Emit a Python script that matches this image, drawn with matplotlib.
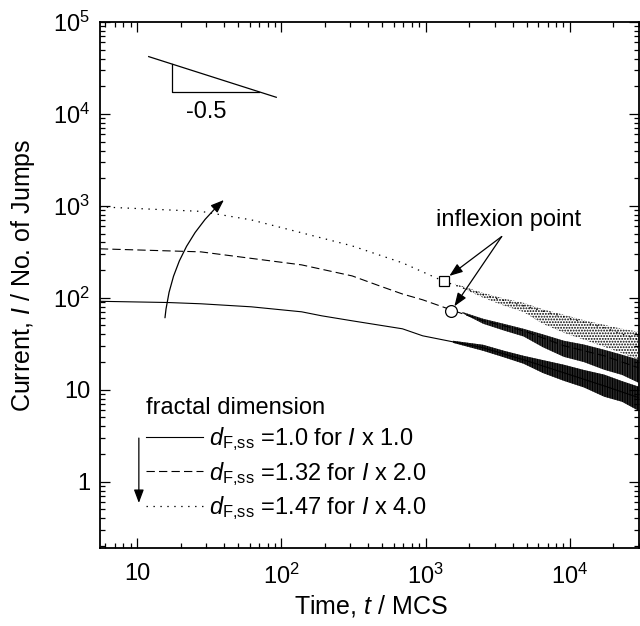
import math

import matplotlib

matplotlib.use("Agg")
import matplotlib.pyplot as plt
from matplotlib.patches import FancyArrowPatch
from matplotlib.ticker import FuncFormatter, LogLocator, NullFormatter

plt.rcParams["font.family"] = ["Liberation Sans", "DejaVu Sans"]
plt.rcParams["mathtext.fontset"] = "custom"
plt.rcParams["mathtext.rm"] = "Liberation Sans"
plt.rcParams["mathtext.it"] = "Liberation Sans:italic"
plt.rcParams["mathtext.bf"] = "Liberation Sans:bold"
plt.rcParams["lines.scale_dashes"] = False
plt.rcParams["hatch.linewidth"] = 0.9

# mean current vs time
t_solid = [5.5, 16.2, 27.6, 61.7, 138, 190, 309, 690, 953, 1545, 2505, 4770, 9080, 17300, 30000]
i_solid = [91.6, 88.9, 86.1, 79.8, 70.4, 63.7, 56.2, 46.0, 38.6, 33.2, 28.6, 21.2, 15.3, 11.0, 8.2]

t_dashed = [5.5, 27.6, 138, 309, 477, 690, 953, 1496, 2505, 4770, 9080, 17300, 30000]
i_dashed = [341, 316, 228, 173, 135, 110, 95.1, 74.1, 56.2, 43.8, 30.1, 23.4, 17.3]

t_dotted = [5.5, 27.6, 61.7, 138, 309, 690, 1336, 2505, 4770, 9080, 17300, 30000]
i_dotted = [975, 871, 704, 509, 367, 240, 151, 108, 81.8, 62.1, 47.2, 34.9]

# spread of the noisy tail (upper / lower envelope)
t_band_solid = [1545, 2505, 3500, 4770, 6500, 9080, 12500, 17300, 23000, 30000]
hi_solid = [34.1, 30.8, 26.5, 23.4, 21.0, 18.7, 16.4, 14.6, 12.4, 10.8]
lo_solid = [32.4, 26.5, 22.5, 19.2, 15.2, 12.5, 10.6, 8.4, 7.4, 5.9]

t_band_dashed = [1800, 2505, 3500, 4770, 6500, 9080, 12500, 17300, 23000, 30000]
hi_dashed = [70.0, 59.1, 52.0, 46.0, 40.0, 34.1, 31.0, 27.2, 24.0, 21.2]
lo_dashed = [68.0, 52.2, 44.0, 38.0, 29.0, 22.8, 20.0, 16.5, 14.5, 11.9]

t_band_dotted = [1600, 2505, 3500, 4770, 6500, 9080, 12500, 17300, 23000, 30000]
hi_dotted = [142, 113, 98.0, 88.2, 75.0, 65.4, 57.0, 50.9, 46.0, 42.7]
lo_dotted = [138, 100, 82.0, 70.0, 52.0, 41.6, 35.0, 29.3, 25.0, 21.2]

# inflexion points
inflex_square = (1336, 151)
inflex_circle = (1496, 72.2)

labels = [
    r"$d_{\mathrm{F{,}ss}}$ =1.0 for $I$ x 1.0",
    r"$d_{\mathrm{F{,}ss}}$ =1.32 for $I$ x 2.0",
    r"$d_{\mathrm{F{,}ss}}$ =1.47 for $I$ x 4.0",
]

# slope guide
slope = -0.5
guide_t = (12.0, 92.0)
guide_i0 = 42000.0
tri_t = 17.5
tri_i = 17400.0

FS = 17
ARROW = "-|>,head_length=0.8,head_width=0.3"

fig = plt.figure(figsize=(6.4, 6.26), dpi=100)
ax = fig.add_axes([0.156, 0.1246, 0.842, 0.8403])

ax.plot(t_solid, i_solid, color="black", lw=0.8, label=labels[0])
ax.plot(t_dashed, i_dashed, color="black", lw=0.8, dashes=(6, 3), label=labels[1])
ax.plot(t_dotted, i_dotted, color="black", lw=0.9, dashes=(1, 4), label=labels[2])

# noisy tails: dark vertical-stroke bands, speckled for the dotted curve
ax.fill_between(t_band_solid, lo_solid, hi_solid, facecolor="0.35", edgecolor="black",
                hatch="||||||||||", lw=0)
ax.fill_between(t_band_dashed, lo_dashed, hi_dashed, facecolor="0.45", edgecolor="black",
                hatch="||||||||||", lw=0)
ax.fill_between(t_band_dotted, lo_dotted, hi_dotted, facecolor="none", edgecolor="black",
                hatch="......", lw=0)

ax.plot(*inflex_square, marker="s", ms=7.5, mfc="white", mec="black", mew=0.9, ls="none")
ax.plot(*inflex_circle, marker="o", ms=8.5, mfc="white", mec="black", mew=0.9, ls="none")

# slope triangle
g_i = [guide_i0 * (t / guide_t[0]) ** slope for t in guide_t]
ax.plot(guide_t, g_i, color="black", lw=0.9)
tri_top = guide_i0 * (tri_t / guide_t[0]) ** slope
tri_right = guide_t[0] * (tri_i / guide_i0) ** (1 / slope)
ax.plot([tri_t, tri_t, tri_right], [tri_top, tri_i, tri_i], color="black", lw=0.9)
ax.text(30.2, 10600, "-0.5", fontsize=FS, ha="center", va="center")

# curved arrow (increasing d_F)
ax.add_patch(FancyArrowPatch((15.5, 56.6), (41.2, 1213), connectionstyle="arc3,rad=-0.2",
                             arrowstyle=ARROW, mutation_scale=10, color="black", lw=0.9))

# inflexion annotation
ax.text(1175, 704, "inflexion point", fontsize=FS, ha="left", va="center")
for target in [(1459, 173), (1581, 80.9)]:
    ax.annotate("", xy=target, xytext=(3365, 464),
                arrowprops=dict(arrowstyle=ARROW, mutation_scale=10, color="black",
                                lw=0.9, shrinkA=0, shrinkB=0))

# legend arrow
ax.annotate("", xy=(0.0724, 0.0856), xytext=(0.0724, 0.209), xycoords="axes fraction",
            arrowprops=dict(arrowstyle=ARROW, mutation_scale=10, color="black",
                            lw=0.9, shrinkA=0, shrinkB=0))

leg = ax.legend(loc="lower left", bbox_to_anchor=(0.085, 0.05), frameon=False,
                title="fractal dimension", alignment="left", fontsize=FS,
                title_fontsize=FS, handlelength=2.45, handletextpad=0.25,
                labelspacing=0.27, borderpad=0, borderaxespad=0)

ax.set_xscale("log")
ax.set_yscale("log")
ax.set_xlim(5.5, 3e4)
ax.set_ylim(0.19, 1e5)


def log_label(v, _pos):
    if v == 1:
        return "1"
    if v == 10:
        return "10"
    return r"$10^{%d}$" % round(math.log10(v))


ax.xaxis.set_major_locator(LogLocator(base=10, numticks=10))
ax.yaxis.set_major_locator(LogLocator(base=10, numticks=10))
ax.xaxis.set_minor_locator(LogLocator(base=10, subs=range(2, 10), numticks=20))
ax.yaxis.set_minor_locator(LogLocator(base=10, subs=range(2, 10), numticks=20))
ax.xaxis.set_major_formatter(FuncFormatter(log_label))
ax.yaxis.set_major_formatter(FuncFormatter(log_label))
ax.xaxis.set_minor_formatter(NullFormatter())
ax.yaxis.set_minor_formatter(NullFormatter())

ax.tick_params(which="both", direction="in", top=True, right=True, width=0.9, labelsize=FS)
ax.tick_params(which="major", length=7)
ax.tick_params(axis="x", which="major", pad=11)
ax.tick_params(axis="y", which="major", pad=7)
ax.tick_params(which="minor", length=3.5)
for sp in ax.spines.values():
    sp.set_linewidth(1.3)

ax.set_xlabel(r"Time, $t$ / MCS", fontsize=18)
ax.set_ylabel(r"Current, $I$ / No. of Jumps", fontsize=18)
ax.xaxis.set_label_coords(0.502, -0.085)
ax.yaxis.set_label_coords(-0.116, 0.519)

fig.savefig("out.png", dpi=100)
